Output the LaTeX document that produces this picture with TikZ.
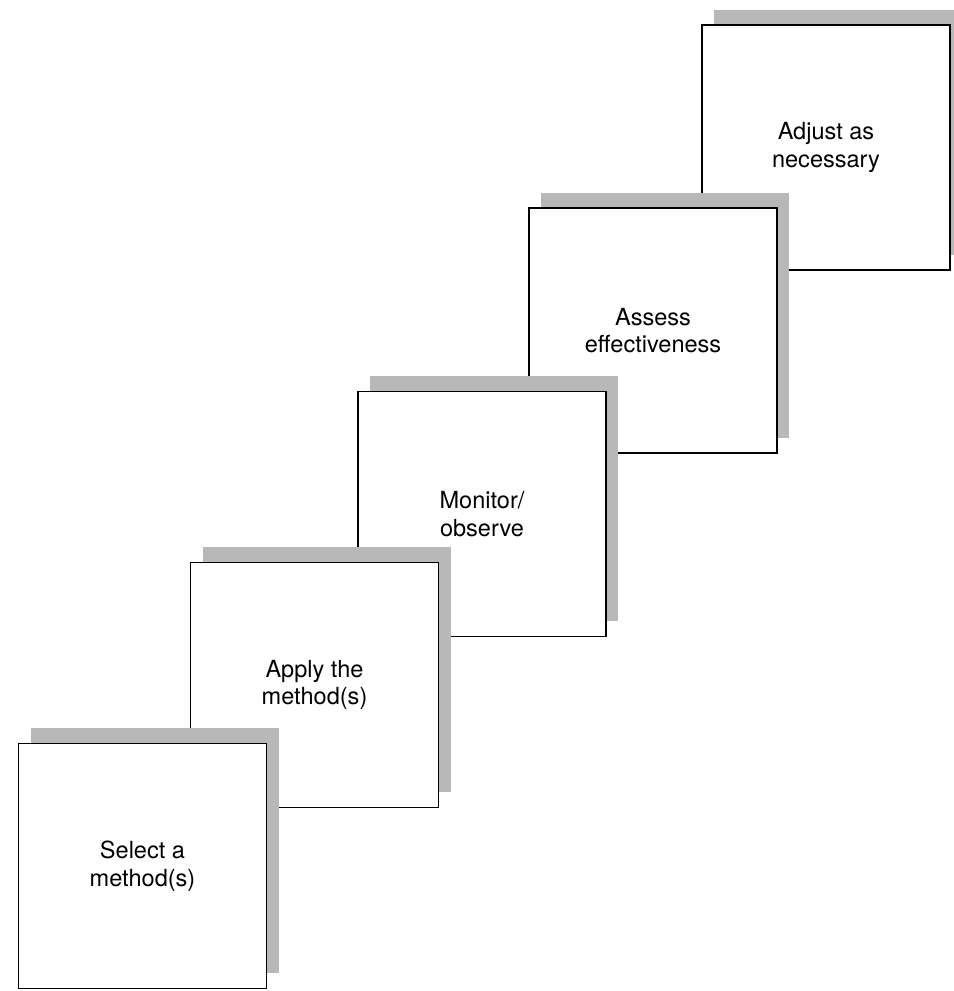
\documentclass[tikz,border=0pt]{standalone}
\usepackage{fontspec}
\setmainfont{TeX Gyre Heros}
\usetikzlibrary{shadows}

\tikzset{
  stepbox/.style={draw=black,line width=1pt,fill=white,
    minimum width=4.96cm,minimum height=4.9cm,inner sep=0pt,
    align=center,font=\fontsize{13.4}{15.6}\selectfont,
    drop shadow={shadow xshift=0.24cm,shadow yshift=0.3cm,
                 fill=black!28,opacity=1}}
}

\begin{document}
\begin{tikzpicture}
  \useasboundingbox (0,0) rectangle (19.08,19.82);
  % top step first, so each lower step lies over the one above it
  \node[stepbox] (adjust)  at (16.52,16.87) {Adjust as\\necessary};
  \node[stepbox] (assess)  at (13.06,13.21) {Assess\\effectiveness};
  \node[stepbox] (monitor) at (9.64,9.54)   {Monitor/\\observe};
  \node[stepbox] (apply)   at (6.29,6.12)   {Apply the\\method(s)};
  \node[stepbox] (select)  at (2.85,2.50)   {Select a\\method(s)};
\end{tikzpicture}
\end{document}
